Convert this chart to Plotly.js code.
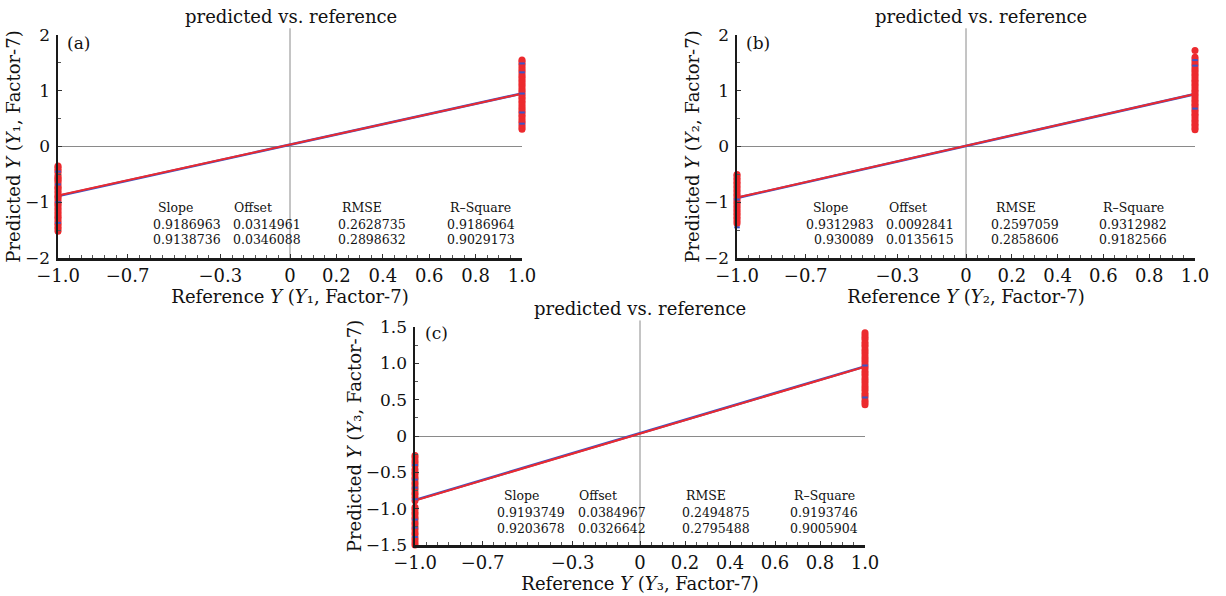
<!DOCTYPE html>
<html><head><meta charset="utf-8">
<script src="https://cdn.plot.ly/plotly-3.0.1.min.js"></script>
<style>html,body{margin:0;padding:0;background:#fff}#chart{width:1226px;height:596px}</style>
</head><body><div id="chart"></div>
<script>
// ---------- data ----------
const chartTitle = 'predicted vs. reference';
const panelLabels = ['(a)', '(b)', '(c)'];
const responseIndex = ['₁', '₂', '₃'];
const refLow = -1;
const refHigh = 1;

const xTickVals = [-1, -0.7, -0.3, 0, 0.2, 0.4, 0.6, 0.8, 1];
const xTickText = ['−1.0', '−0.7', '−0.3', '0', '0.2', '0.4', '0.6', '0.8', '1.0'];
const yTickValsAB = [-2, -1, 0, 1, 2];
const yTickTextAB = ['−2', '−1', '0', '1', '2'];
const yTickValsC = [-1.5, -1, -0.5, 0, 0.5, 1, 1.5];
const yTickTextC = ['−1.5', '−1.0', '−0.5', '0', '0.5', '1.0', '1.5'];

const statHeaders = ['Slope', 'Offset', 'RMSE', 'R–Square'];
// row 0 = calibration (blue), row 1 = validation (red)
const slopeA = [0.9186963, 0.9138736], offsetA = [0.0314961, 0.0346088], rmseA = [0.2628735, 0.2898632], rsqA = [0.9186964, 0.9029173];
const slopeB = [0.9312983, 0.930089],  offsetB = [0.0092841, 0.0135615], rmseB = [0.2597059, 0.2858606], rsqB = [0.9312982, 0.9182566];
const slopeC = [0.9193749, 0.9203678], offsetC = [0.0384967, 0.0326642], rmseC = [0.2494875, 0.2795488], rsqC = [0.9193746, 0.9005904];

// predicted values (red = validation, blue = calibration) at reference -1 and +1
const redA_low  = [-0.35,-0.37,-0.41,-0.44,-0.47,-0.52,-0.55,-0.58,-0.60,-0.63,-0.67,-0.71,-0.74,-0.76,-0.80,-0.83,-0.87,-0.90,-0.92,-0.96,-1.00,-1.03,-1.06,-1.10,-1.13,-1.17,-1.20,-1.24,-1.27,-1.30,-1.34,-1.38,-1.41,-1.45,-1.48,-1.52];
const redA_high = [0.31,0.34,0.38,0.42,0.45,0.49,0.53,0.56,0.60,0.63,0.67,0.70,0.74,0.78,0.81,0.85,0.88,0.92,0.95,0.99,1.02,1.06,1.10,1.13,1.17,1.20,1.24,1.27,1.31,1.35,1.38,1.42,1.46,1.49,1.53,1.55];
const blueA_low  = [-0.45,-0.68,-1.00,-1.37];
const blueA_high = [1.49,1.33,0.95,0.61,0.41];

const redB_low  = [-0.50,-0.53,-0.57,-0.60,-0.64,-0.67,-0.71,-0.74,-0.78,-0.81,-0.85,-0.88,-0.92,-0.95,-0.99,-1.02,-1.06,-1.09,-1.13,-1.16,-1.20,-1.23,-1.27,-1.30,-1.34,-1.38];
const redB_high = [0.30,0.33,0.37,0.40,0.44,0.47,0.51,0.55,0.58,0.62,0.65,0.69,0.73,0.76,0.80,0.83,0.87,0.91,0.94,0.98,1.01,1.05,1.09,1.12,1.16,1.19,1.23,1.27,1.30,1.34,1.37,1.41,1.45,1.48,1.52,1.56,1.60,1.72];
const blueB_low  = [-0.95,-1.45];
const blueB_high = [1.55,1.45,0.68];

const redC_low  = [-0.27,-0.30,-0.34,-0.37,-0.41,-0.46,-0.50,-0.53,-0.57,-0.60,-0.64,-0.67,-0.71,-0.74,-0.78,-0.81,-0.85,-0.89,-0.98,-1.01,-1.05,-1.08,-1.12,-1.15,-1.19,-1.22,-1.26,-1.29,-1.33,-1.36,-1.40,-1.43,-1.47,-1.50];
const redC_high = [0.43,0.46,0.49,0.53,0.56,0.59,0.63,0.66,0.69,0.73,0.76,0.79,0.83,0.86,0.89,0.93,0.96,0.99,1.03,1.06,1.09,1.13,1.16,1.19,1.23,1.26,1.29,1.33,1.36,1.39,1.42];
const blueC_low  = [-0.40,-0.60,-0.71,-0.87,-1.15,-1.26,-1.39];
const blueC_high = [0.53,0.97];

// ---------- layout helpers ----------
const W = 1226, H = 596;
const px = v => v / W;
const py = v => 1 - v / H;
const FONT = '"DejaVu Serif", "Liberation Serif", serif';
const RED = '#ec2a2e', BLUE = '#3a55c8';

const panels = [
  {ax: '', slope: slopeA, offset: offsetA, rmse: rmseA, rsq: rsqA, redLow: redA_low, redHigh: redA_high, blueLow: blueA_low, blueHigh: blueA_high,
   xPix: [58, 522], yPix: [35, 258], yr: [-2, 2], ytv: yTickValsAB, ytt: yTickTextAB, yminor: 0.5,
   title: [291, 17], label: [65, 43],
   cols: [[156, 223], [232, 303], [340, 408], [448, 517]], rows: [207, 224, 240]},
  {ax: '2', slope: slopeB, offset: offsetB, rmse: rmseB, rsq: rsqB, redLow: redB_low, redHigh: redB_high, blueLow: blueB_low, blueHigh: blueB_high,
   xPix: [737, 1195], yPix: [35, 258], yr: [-2, 2], ytv: yTickValsAB, ytt: yTickTextAB, yminor: 0.5,
   title: [981, 17], label: [744, 43],
   cols: [[811, 876], [887, 956], [994, 1061], [1101, 1169]], rows: [207, 224, 240]},
  {ax: '3', slope: slopeC, offset: offsetC, rmse: rmseC, rsq: rsqC, redLow: redC_low, redHigh: redC_high, blueLow: blueC_low, blueHigh: blueC_high,
   xPix: [415, 865], yPix: [327, 545], yr: [-1.5, 1.5], ytv: yTickValsC, ytt: yTickTextC, yminor: 0.25,
   title: [640, 308], label: [423, 333],
   cols: [[502, 567], [577, 648], [684, 752], [792, 860]], rows: [495, 512, 528]}
];

const traces = [];
const annotations = [];
const shapes = [];
const layout = {
  width: W, height: H, margin: {l: 0, r: 0, t: 0, b: 0},
  paper_bgcolor: '#fff', plot_bgcolor: '#fff', showlegend: false,
  font: {family: FONT, color: '#111'},
  annotations: annotations, shapes: shapes
};

panels.forEach((p, i) => {
  const xa = 'x' + p.ax, ya = 'y' + p.ax;
  const fill = (n, v) => Array(n).fill(v);
  traces.push({x: [refLow, refHigh], y: [p.slope[0] * refLow + p.offset[0], p.slope[0] * refHigh + p.offset[0]],
    xaxis: xa, yaxis: ya, mode: 'lines', line: {color: BLUE, width: 2.6}, hoverinfo: 'skip'});
  traces.push({x: [refLow, refHigh], y: [p.slope[1] * refLow + p.offset[1], p.slope[1] * refHigh + p.offset[1]],
    xaxis: xa, yaxis: ya, mode: 'lines', line: {color: RED, width: 2}, hoverinfo: 'skip'});
  traces.push({x: fill(p.redLow.length, refLow).concat(fill(p.redHigh.length, refHigh)), y: p.redLow.concat(p.redHigh),
    xaxis: xa, yaxis: ya, mode: 'markers', cliponaxis: false, marker: {color: RED, size: 7}});
  traces.push({x: fill(p.blueLow.length, refLow).concat(fill(p.blueHigh.length, refHigh)), y: p.blueLow.concat(p.blueHigh),
    xaxis: xa, yaxis: ya, mode: 'markers', cliponaxis: false, marker: {color: BLUE, size: 4, symbol: 'line-ew', line: {color: BLUE, width: 2}}});

  const k = responseIndex[i];
  const xKey = 'xaxis' + p.ax, yKey = 'yaxis' + p.ax;
  layout[xKey] = {
    domain: [px(p.xPix[0]), px(p.xPix[1])], anchor: ya, range: [refLow, refHigh],
    title: {text: 'Reference <i>Y</i> (<i>Y</i>' + k + ', Factor-7)', standoff: 0,
            font: {family: FONT, size: 18, color: '#111'}},
    tickmode: 'array', tickvals: xTickVals, ticktext: xTickText,
    ticks: 'inside', ticklen: 4, tickwidth: 1, tickcolor: '#333',
    minor: {tickmode: 'linear', tick0: -1, dtick: 0.05, ticks: 'inside', ticklen: 3, tickwidth: 1, tickcolor: '#555', showgrid: false},
    showline: true, linecolor: '#1a1a1a', linewidth: 2.5, showgrid: false, zeroline: false,
    tickfont: {family: FONT, size: 18, color: '#111'}, fixedrange: true
  };
  layout[yKey] = {
    domain: [py(p.yPix[1]), py(p.yPix[0])], anchor: xa, range: p.yr,
    title: {text: 'Predicted <i>Y</i> (<i>Y</i>' + k + ', Factor-7)', standoff: 0,
            font: {family: FONT, size: 18, color: '#111'}},
    tickmode: 'array', tickvals: p.ytv, ticktext: p.ytt,
    ticks: 'inside', ticklen: 4, tickwidth: 1, tickcolor: '#333',
    minor: {tickmode: 'linear', tick0: 0, dtick: p.yminor, ticks: 'inside', ticklen: 3, tickwidth: 1, tickcolor: '#555', showgrid: false},
    showline: true, linecolor: '#1a1a1a', linewidth: 2.5, showgrid: false,
    zeroline: true, zerolinecolor: '#8a8a8a', zerolinewidth: 1,
    tickfont: {family: FONT, size: 17, color: '#111'}, ticklabelstandoff: 2, fixedrange: true
  };
  shapes.push({type: 'line', xref: xa, yref: ya + ' domain', x0: 0, x1: 0, y0: 0, y1: 1.03,
    line: {color: '#8a8a8a', width: 1}, layer: 'below'});

  annotations.push({text: chartTitle, xref: 'paper', yref: 'paper', x: px(p.title[0]), y: py(p.title[1]),
    xanchor: 'center', yanchor: 'middle', showarrow: false, font: {family: FONT, size: 18, color: '#111'}});
  annotations.push({text: panelLabels[i], xref: 'paper', yref: 'paper', x: px(p.label[0]), y: py(p.label[1]),
    xanchor: 'left', yanchor: 'middle', showarrow: false, font: {family: FONT, size: 17, color: '#111'}});

  const cols = [p.slope, p.offset, p.rmse, p.rsq];
  statHeaders.forEach((h, c) => {
    annotations.push({text: h, xref: 'paper', yref: 'paper', x: px(p.cols[c][0]), y: py(p.rows[0]),
      xanchor: 'left', yanchor: 'middle', showarrow: false, font: {family: FONT, size: 12.5, color: '#111'}});
    for (let r = 0; r < 2; r++) {
      annotations.push({text: String(cols[c][r]), xref: 'paper', yref: 'paper', x: px(p.cols[c][1]), y: py(p.rows[r + 1]),
        xanchor: 'right', yanchor: 'middle', showarrow: false, font: {family: FONT, size: 12.5, color: '#111'}});
    }
  });
});

Plotly.newPlot('chart', traces, layout, {staticPlot: true, displayModeBar: false});
</script>
</body></html>
